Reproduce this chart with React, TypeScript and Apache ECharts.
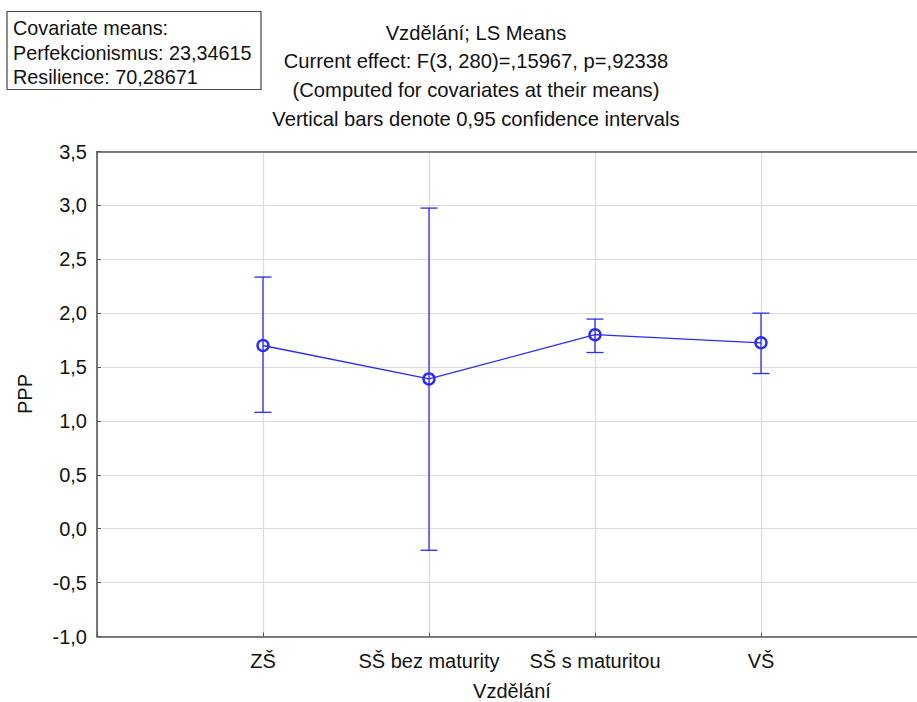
import React, { useEffect, useRef } from "react";
import * as echarts from "echarts";

const categories = ["ZŠ", "SŠ bez maturity", "SŠ s maturitou", "VŠ"];
const means = [1.7, 1.39, 1.8, 1.725];
const lowerCI = [1.08, -0.2, 1.635, 1.44];
const upperCI = [2.335, 2.975, 1.945, 2.0];
const titleLines = [
  "Vzdělání; LS Means",
  "Current effect: F(3, 280)=,15967, p=,92338",
  "(Computed for covariates at their means)",
  "Vertical bars denote 0,95 confidence intervals",
];
const covariateLines = [
  "Covariate means:",
  "Perfekcionismus: 23,34615",
  "Resilience: 70,28671",
];
const yLabel = "PPP";
const xLabel = "Vzdělání";

const BLUE = "#2a2aff";
const FONT = "'Liberation Sans', Arial, Helvetica, sans-serif";
const LABEL_SIZE = 20;

export default function App() {
  const ref = useRef<HTMLDivElement>(null);
  useEffect(() => {
    if (!ref.current) return;
    const chart = echarts.init(ref.current, null, { renderer: "svg" });
    const pointData = means.map((m, i) => [i + 1, m]);
    const barData = means.map((_, i) => [i + 1, lowerCI[i], upperCI[i]]);
    const option: any = {
      animation: false,
      backgroundColor: "#ffffff",
      textStyle: { fontFamily: FONT },
      grid: { left: 97, top: 151.5, right: -10, bottom: 65.5, outerBoundsMode: "none", containLabel: false },
      xAxis: [
        {
          type: "value",
          min: 0,
          max: 5,
          interval: 1,
          name: xLabel,
          nameLocation: "middle",
          nameGap: 44,
          nameTextStyle: { color: "#111", fontSize: LABEL_SIZE, fontFamily: FONT },
          axisLine: { show: true, onZero: false, lineStyle: { color: "#555", width: 1.6 } },
          axisTick: { show: true, inside: true, length: 4, lineStyle: { color: "#555" } },
          splitLine: { show: true, lineStyle: { color: "#dcdcdc", width: 1.2 } },
          axisLabel: {
            color: "#111",
            fontSize: LABEL_SIZE,
            fontFamily: FONT,
            margin: 14,
            formatter: (v: number) => {
              const idx = Math.round(v) - 1;
              return Math.abs(v - Math.round(v)) < 1e-6 && idx >= 0 && idx < categories.length
                ? categories[idx]
                : "";
            },
          },
        },
        {
          type: "value",
          position: "top",
          min: 0,
          max: 5,
          axisLine: { show: true, onZero: false, lineStyle: { color: "#555", width: 1.6 } },
          axisTick: { show: false },
          axisLabel: { show: false },
          splitLine: { show: false },
        },
      ],
      yAxis: {
        type: "value",
        min: -1,
        max: 3.5,
        interval: 0.5,
        name: yLabel,
        nameLocation: "middle",
        nameGap: 62,
        nameRotate: 90,
        nameTextStyle: { color: "#111", fontSize: LABEL_SIZE, fontFamily: FONT },
        axisLine: { show: true, onZero: false, lineStyle: { color: "#555", width: 1.6 } },
        axisTick: { show: true, inside: true, length: 4, lineStyle: { color: "#555" } },
        splitLine: { show: true, lineStyle: { color: "#dcdcdc", width: 1.2 } },
        axisLabel: {
          color: "#111",
          fontSize: LABEL_SIZE,
          fontFamily: FONT,
          margin: 10,
          formatter: (v: number) => v.toFixed(1).replace(".", ","),
        },
      },
      graphic: [
        {
          type: "rect",
          shape: { x: 7, y: 11.5, width: 254, height: 78 },
          style: { fill: "#fff", stroke: "#444", lineWidth: 1.2 },
        },
        ...covariateLines.map((t, i) => ({
          type: "text",
          x: 13,
          y: 28 + i * 24.5,
          style: {
            text: t,
            font: `19.8px ${FONT}`,
            fill: "#111",
            textAlign: "left",
            textVerticalAlign: "middle",
          },
        })),
        ...titleLines.map((t, i) => ({
          type: "text",
          x: 476,
          y: 32.5 + i * 28.7,
          style: {
            text: t,
            font: `20.2px ${FONT}`,
            fill: "#111",
            textAlign: "center",
            textVerticalAlign: "middle",
          },
        })),
      ],
      series: [
        {
          type: "custom",
          xAxisIndex: 0,
          data: barData,
          z: 2,
          renderItem: (params: any, api: any) => {
            const x = api.value(0);
            const lo = api.coord([x, api.value(1)]);
            const hi = api.coord([x, api.value(2)]);
            const cap = 8.5;
            const style = { stroke: BLUE, lineWidth: 1.3 };
            return {
              type: "group",
              children: [
                { type: "line", shape: { x1: lo[0], y1: lo[1], x2: hi[0], y2: hi[1] }, style },
                { type: "line", shape: { x1: hi[0] - cap, y1: hi[1], x2: hi[0] + cap, y2: hi[1] }, style },
                { type: "line", shape: { x1: lo[0] - cap, y1: lo[1], x2: lo[0] + cap, y2: lo[1] }, style },
              ],
            };
          },
        },
        {
          type: "line",
          xAxisIndex: 0,
          data: pointData,
          z: 3,
          symbol: "circle",
          symbolSize: 11,
          lineStyle: { color: BLUE, width: 1.3 },
          itemStyle: { color: "rgba(255,255,255,0)", borderColor: BLUE, borderWidth: 2.4 },
        },
      ],
    };
    chart.setOption(option);
    return () => chart.dispose();
  }, []);
  return (
    <div style={{ position: "fixed", left: 0, top: 0, width: 917, height: 702, background: "#fff", overflow: "hidden" }}>
      <div ref={ref} style={{ width: 917, height: 702 }} />
    </div>
  );
}
